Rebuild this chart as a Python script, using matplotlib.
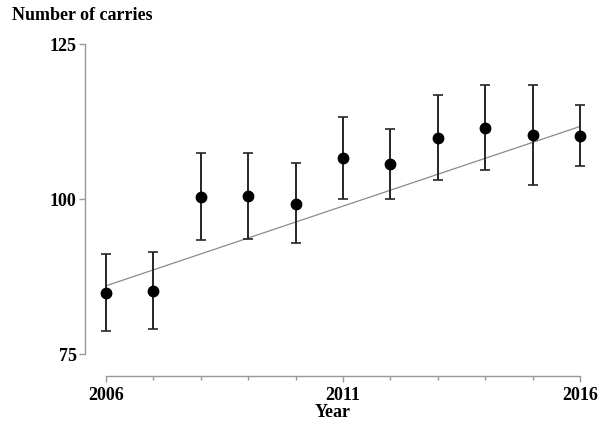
import numpy as np
import matplotlib
matplotlib.use("Agg")
import matplotlib.pyplot as plt
from matplotlib.ticker import FixedLocator

years = np.arange(2006, 2017)
carries = [84.8, 85.1, 100.4, 100.5, 99.2, 106.6, 105.6, 109.9, 111.5, 110.3, 110.2]
err_high = [91.1, 91.5, 107.4, 107.5, 105.8, 113.2, 111.3, 116.8, 118.4, 118.4, 115.1]
err_low = [78.7, 79.0, 93.4, 93.5, 92.9, 100.0, 99.95, 103.1, 104.7, 102.2, 105.3]
trend_years = [2006, 2016]
trend_vals = [86.0, 111.7]
y_ticks = [75, 100, 125]
x_ticks = [2006, 2011, 2016]

plt.rcParams['font.family'] = ['Liberation Serif', 'DejaVu Serif']
plt.rcParams['font.weight'] = 'bold'

fig = plt.figure(figsize=(6, 4.28), dpi=100)
ax = fig.add_axes([85 / 600, 1 - 376 / 428, 495 / 600, 332 / 428])

carries = np.array(carries)
lower = carries - np.array(err_low)
upper = np.array(err_high) - carries

ax.plot(trend_years, trend_vals, color='#8a8a8a', lw=0.9, zorder=1)
ax.errorbar(years, carries, yerr=[lower, upper], fmt='o', color='black',
            ecolor='#262626', elinewidth=1.4, capsize=3.8, capthick=1.2,
            markersize=7.5, clip_on=False, zorder=3)

ax.set_xlim(2006 - 21 / 47.4, 2016)
ax.set_ylim(75 - 22 / 6.2, 125)

for s in ['top', 'right']:
    ax.spines[s].set_visible(False)
ax.spines['left'].set_bounds(75, 125)
ax.spines['bottom'].set_bounds(2006, 2016)
for s in ['left', 'bottom']:
    ax.spines[s].set_color('#999999')
    ax.spines[s].set_linewidth(1.0)

ax.set_yticks(y_ticks)
ax.set_xticks(x_ticks)
ax.xaxis.set_minor_locator(FixedLocator(list(years)))
ax.tick_params(axis='both', which='major', colors='#999999', labelcolor='black',
               labelsize=13, length=4, width=1.0)
ax.tick_params(axis='x', which='minor', colors='#999999', length=3, width=1.0)
ax.tick_params(axis='x', which='major', pad=4)
ax.tick_params(axis='y', which='major', pad=2)
for lbl in ax.get_xticklabels() + ax.get_yticklabels():
    lbl.set_fontweight('bold')

ax.set_xlabel('Year', fontsize=13, fontweight='bold', labelpad=0)
fig.text(12 / 600, 1 - 16 / 428, 'Number of carries', fontsize=13,
         fontweight='bold', va='center', ha='left')

fig.savefig('out.png', dpi=100)
